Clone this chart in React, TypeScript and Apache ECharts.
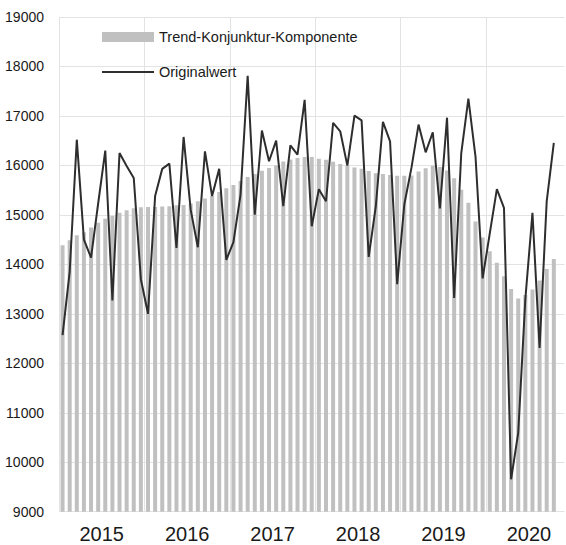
import React, { useEffect, useRef } from 'react';
import * as echarts from 'echarts';

const years = ['2015', '2016', '2017', '2018', '2019', '2020'];
const monthNames = ['01', '02', '03', '04', '05', '06', '07', '08', '09', '10', '11', '12'];
// Jan 2015 .. Nov 2020 (Nov 2020 has no value yet)
const months: string[] = [];
years.forEach((y) => monthNames.forEach((m) => months.push(`${y}-${m}`)));
months.length = 71;

const trend = [
  14385, 14485, 14590, 14650, 14745, 14840, 14920, 14975, 15045, 15095, 15135, 15155,
  15160, 15160, 15170, 15175, 15195, 15200, 15230, 15275, 15330, 15385, 15465, 15540,
  15605, 15685, 15765, 15825, 15890, 15950, 16000, 16080, 16120, 16150, 16170, 16170,
  16135, 16115, 16075, 16030, 15995, 15960, 15935, 15885, 15840, 15825, 15805, 15790,
  15790, 15795, 15875, 15945, 15995, 15970, 15895, 15740, 15510, 15245, 14865, 14545,
  14265, 14030, 13760, 13500, 13310, 13380, 13490, 13675, 13905, 14110,
];

const original = [
  12570, 13850, 16520, 14500, 14135, 15230, 16300, 13270, 16250, 15990, 15745, 13700,
  13000, 15380, 15930, 16035, 14330, 16575, 15100, 14345, 16285, 15380, 15930, 14090,
  14450, 15410, 17810, 15005, 16705, 16085, 16500, 15175, 16405, 16220, 17325, 14770,
  15520, 15275, 16860, 16690, 15995, 17005, 16910, 14150, 15175, 16880, 16485, 13600,
  15210, 15950, 16825, 16265, 16670, 15130, 16965, 13320, 16250, 17350, 16180, 13715,
  14620, 15520, 15140, 9655, 10595, 13300, 15040, 12310, 15275, 16455,
];

const yMin = 9000;
const yMax = 19000;
const yStep = 1000;

const yearStarts = years.map((_, i) => i * 12);
const yearMids = years.map((_, i) => i * 12 + 6);

const FONT = "'Liberation Sans', Arial, sans-serif";

export default function App() {
  const ref = useRef<HTMLDivElement>(null);
  useEffect(() => {
    if (!ref.current) return;
    const chart = echarts.init(ref.current, null, { renderer: 'svg' });
    chart.setOption({
      animation: false,
      backgroundColor: '#ffffff',
      grid: {
        left: 59,
        right: 1.5,
        top: 17,
        bottom: 33.3,
        containLabel: false,
        outerBoundsMode: 'none',
      },
      legend: {
        orient: 'vertical',
        left: 102,
        top: 28,
        padding: 0,
        itemGap: 17,
        itemWidth: 52,
        itemHeight: 10,
        textStyle: { fontFamily: FONT, fontSize: 14.5, color: '#1a1a1a', lineHeight: 18 },
        data: [
          { name: 'Trend-Konjunktur-Komponente', icon: 'rect' },
          { name: 'Originalwert', icon: 'path://M0,0L52,0L52,2L0,2Z' },
        ],
      },
      xAxis: [
        {
          type: 'category',
          data: months,
          boundaryGap: true,
          axisLine: { show: false },
          axisTick: { show: false },
          axisLabel: { show: false },
          splitLine: { show: false },
        },
        {
          type: 'value',
          position: 'bottom',
          min: 0,
          max: months.length,
          axisLine: { show: false },
          axisTick: { show: false, customValues: yearStarts },
          axisLabel: {
            customValues: yearMids,
            formatter: (v: number) => years[Math.round((v - 6) / 12)] ?? '',
            fontFamily: FONT,
            fontSize: 20,
            color: '#1a1a1a',
            margin: 12,
          },
          splitLine: { show: true, lineStyle: { color: '#e3e3e3', width: 1 } },
        },
      ],
      yAxis: {
        type: 'value',
        min: yMin,
        max: yMax,
        interval: yStep,
        axisLine: { show: false },
        axisTick: { show: false },
        axisLabel: {
          fontFamily: FONT,
          fontSize: 14,
          color: '#1a1a1a',
          margin: 15,
          formatter: (v: number) => String(v),
        },
        splitLine: { show: true, lineStyle: { color: '#e3e3e3', width: 1 } },
      },
      series: [
        {
          name: 'Trend-Konjunktur-Komponente',
          type: 'bar',
          xAxisIndex: 0,
          data: trend,
          barWidth: 4,
          itemStyle: { color: '#c0c0c0' },
        },
        {
          name: 'Originalwert',
          type: 'line',
          xAxisIndex: 0,
          data: original,
          symbol: 'none',
          lineStyle: { color: '#2e2e2e', width: 2 },
          itemStyle: { color: '#2e2e2e' },
          z: 3,
        },
      ],
    });
    return () => chart.dispose();
  }, []);
  return (
    <div
      ref={ref}
      style={{ position: 'absolute', left: 0, top: 0, width: 566, height: 545 }}
    />
  );
}
